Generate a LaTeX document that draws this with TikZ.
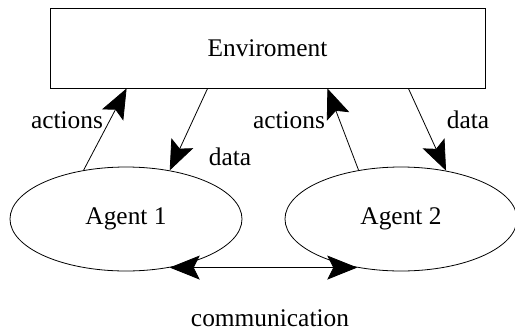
\documentclass[tikz,border=0pt]{standalone}
\usepackage{fontspec}
\setmainfont{Liberation Serif}
\usetikzlibrary{arrows.meta,shapes.geometric}

\begin{document}
\begin{tikzpicture}[x=0.5pt,y=-0.5pt,
    font=\fontsize{12.7}{15}\selectfont,
    >={Stealth[length=15pt,width=12pt,inset=3pt]},
    agent/.style={draw,ellipse,minimum width=116pt,minimum height=52pt,inner sep=0pt}]
    \useasboundingbox (0,0) rectangle (515,333);
    \node[draw,minimum width=217.5pt,minimum height=40pt] (env) at (267.5,48) {Enviroment};
    \node[agent] (a1) at (126,219) {Agent 1};
    \node[agent] (a2) at (401,219) {Agent 2};
    % labels
    \node (act1) at (67,120) {actions};
    \node (dat1) at (230,157) {data};
    \node (act2) at (289,120) {actions};
    \node (dat2) at (468,120) {data};
    \node (comm) at (270,318) {communication};
    % agent 1 <-> environment
    \draw[->] (a1.131) -- (env.196);
    \draw[->] (env.214) -- (a1.48);
    % agent 2 <-> environment
    \draw[->] (a2.131) -- (env.326);
    \draw[->] (env.344) -- (a2.47);
    \draw[<->] (a1.312) -- (a2.228);
\end{tikzpicture}
\end{document}
